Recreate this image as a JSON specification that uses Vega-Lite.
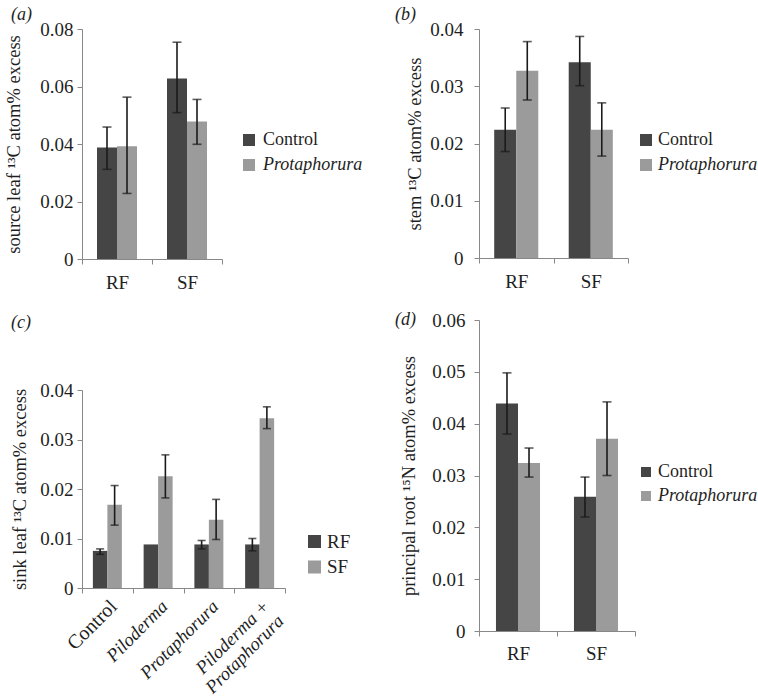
{
  "$schema": "https://vega.github.io/schema/vega-lite/v6.json",
  "background": "white",
  "padding": {"left": 4, "top": 6, "right": 0, "bottom": 0},
  "spacing": 32,
  "resolve": {"scale": {"x": "independent", "y": "independent", "xOffset": "independent", "color": "independent"}, "legend": {"color": "independent"}},
  "config": {
    "font": "Liberation Serif",
    "view": {"stroke": null},
    "axis": {
      "grid": false,
      "domainColor": "#888888",
      "tickColor": "#888888",
      "tickSize": 5,
      "labelColor": "#1f1f1f",
      "titleColor": "#1f1f1f",
      "labelFont": "Liberation Serif",
      "titleFont": "Liberation Serif",
      "labelFontSize": 19,
      "titleFontSize": 18.5,
      "titleFontWeight": "normal",
      "labelOverlap": false,
      "labelFlush": false
    },
    "axisY": {"labelPadding": 4},
    "axisX": {"labelPadding": 9},
    "legend": {
      "labelFont": "Liberation Serif",
      "labelColor": "#1f1f1f",
      "labelFontSize": 18,
      "labelLimit": 200,
      "symbolType": "square",
      "symbolStrokeWidth": 0,
      "padding": 0
    },
    "title": {
      "font": "Liberation Serif",
      "fontSize": 18,
      "fontStyle": "italic",
      "fontWeight": "normal",
      "color": "#1f1f1f",
      "anchor": "start",
      "frame": "group"
    }
  },
  "hconcat": [
    {
      "spacing": 22,
      "resolve": {"scale": {"x": "independent", "y": "independent", "xOffset": "independent", "color": "independent"}, "legend": {"color": "independent"}},
      "vconcat": [
        {
          "title": {"text": "(a)", "dx": -71, "offset": -4},
          "width": 140,
          "height": 230,
          "data": {"values": [
            {"site": "RF", "trt": "Control", "mean": 0.0388, "lo": 0.0312, "hi": 0.0459},
            {"site": "RF", "trt": "Protaphorura", "mean": 0.0392, "lo": 0.0228, "hi": 0.0563},
            {"site": "SF", "trt": "Control", "mean": 0.0628, "lo": 0.0509, "hi": 0.0754},
            {"site": "SF", "trt": "Protaphorura", "mean": 0.0478, "lo": 0.0399, "hi": 0.0555}
          ]},
          "encoding": {
            "x": {"field": "site", "type": "nominal", "sort": ["RF", "SF"], "scale": {"paddingInner": 0, "paddingOuter": 0},
                  "axis": {"title": null, "labelAngle": 0, "tickBand": "extent"}},
            "xOffset": {"field": "trt", "type": "nominal", "sort": ["Control", "Protaphorura"], "scale": {"paddingInner": 0, "paddingOuter": 0.75}}
          },
          "layer": [
            {"mark": {"type": "bar"},
             "encoding": {
               "y": {"field": "mean", "type": "quantitative", "scale": {"domain": [0, 0.08]},
                     "axis": {"title": "source leaf ¹³C atom% excess", "values": [0, 0.02, 0.04, 0.06, 0.08], "format": ".2~f", "titlePadding": 16}},
               "color": {"field": "trt", "type": "nominal", "scale": {"domain": ["Control", "Protaphorura"], "range": ["#454545", "#9b9b9b"]},
                         "legend": {"title": null, "orient": "none", "legendX": 158, "legendY": 102, "symbolSize": 144, "labelOffset": 5, "rowPadding": 7,
                                    "encode": {"labels": {"update": {"fontStyle": {"signal": "datum.value == 'Protaphorura' ? 'italic' : 'normal'"}}}}}}
             }},
            {"mark": {"type": "rule", "color": "#1a1a1a", "strokeWidth": 1.6},
             "encoding": {"y": {"field": "lo", "type": "quantitative"}, "y2": {"field": "hi"}}},
            {"mark": {"type": "tick", "color": "#1a1a1a", "thickness": 1.6, "size": 9},
             "encoding": {"y": {"field": "lo", "type": "quantitative"}}},
            {"mark": {"type": "tick", "color": "#1a1a1a", "thickness": 1.6, "size": 9},
             "encoding": {"y": {"field": "hi", "type": "quantitative"}}}
          ]
        },
        {
          "title": {"text": "(c)", "dx": -71, "offset": 49},
          "width": 203,
          "height": 198,
          "data": {"values": [
            {"trt": "Control", "site": "RF", "mean": 0.0075, "lo": 0.0068, "hi": 0.0079},
            {"trt": "Control", "site": "SF", "mean": 0.0168, "lo": 0.0127, "hi": 0.0207},
            {"trt": "Piloderma", "site": "RF", "mean": 0.0088, "lo": null, "hi": null},
            {"trt": "Piloderma", "site": "SF", "mean": 0.0226, "lo": 0.0182, "hi": 0.0269},
            {"trt": "Protaphorura", "site": "RF", "mean": 0.0088, "lo": 0.0079, "hi": 0.0096},
            {"trt": "Protaphorura", "site": "SF", "mean": 0.0138, "lo": 0.0098, "hi": 0.0179},
            {"trt": "Piloderma + Protaphorura", "site": "RF", "mean": 0.0088, "lo": 0.0075, "hi": 0.0100},
            {"trt": "Piloderma + Protaphorura", "site": "SF", "mean": 0.0343, "lo": 0.0322, "hi": 0.0366}
          ]},
          "encoding": {
            "x": {"field": "trt", "type": "nominal", "sort": ["Control", "Piloderma", "Protaphorura", "Piloderma + Protaphorura"],
                  "scale": {"paddingInner": 0, "paddingOuter": 0},
                  "axis": {"title": null, "labelAngle": -45, "labelAlign": "right", "labelBaseline": "middle", "labelPadding": 10, "labelOffset": 6, "tickBand": "extent",
                           "labelFontSize": {"condition": {"test": "datum.value == 'Control'", "value": 20}, "value": 18.5},
                           "labelFontStyle": {"condition": {"test": "datum.value != 'Control'", "value": "italic"}, "value": "normal"},
                           "labelExpr": "datum.value == 'Piloderma + Protaphorura' ? ['Piloderma +', 'Protaphorura'] : datum.value"}},
            "xOffset": {"field": "site", "type": "nominal", "sort": ["RF", "SF"], "scale": {"paddingInner": 0, "paddingOuter": 0.75}}
          },
          "layer": [
            {"mark": {"type": "bar"},
             "encoding": {
               "y": {"field": "mean", "type": "quantitative", "scale": {"domain": [0, 0.04]},
                     "axis": {"title": "sink leaf ¹³C atom% excess", "values": [0, 0.01, 0.02, 0.03, 0.04], "format": ".2~f", "titlePadding": 10}},
               "color": {"field": "site", "type": "nominal", "scale": {"domain": ["RF", "SF"], "range": ["#454545", "#9b9b9b"]},
                         "legend": {"title": null, "orient": "none", "legendX": 223, "legendY": 142, "symbolSize": 169, "labelOffset": 3, "rowPadding": 5.5, "labelFontSize": 19}}
             }},
            {"mark": {"type": "rule", "color": "#1a1a1a", "strokeWidth": 1.6},
             "encoding": {"y": {"field": "lo", "type": "quantitative"}, "y2": {"field": "hi"}}},
            {"mark": {"type": "tick", "color": "#1a1a1a", "thickness": 1.6, "size": 8},
             "encoding": {"y": {"field": "lo", "type": "quantitative"}}},
            {"mark": {"type": "tick", "color": "#1a1a1a", "thickness": 1.6, "size": 8},
             "encoding": {"y": {"field": "hi", "type": "quantitative"}}}
          ]
        }
      ]
    },
    {
      "spacing": 20,
      "resolve": {"scale": {"x": "independent", "y": "independent", "xOffset": "independent", "color": "independent"}, "legend": {"color": "independent"}},
      "vconcat": [
        {
          "title": {"text": "(b)", "dx": -84, "offset": -4},
          "width": 149,
          "height": 229,
          "data": {"values": [
            {"site": "RF", "trt": "Control", "mean": 0.0224, "lo": 0.0186, "hi": 0.0262},
            {"site": "RF", "trt": "Protaphorura", "mean": 0.0327, "lo": 0.0276, "hi": 0.0378},
            {"site": "SF", "trt": "Control", "mean": 0.0342, "lo": 0.0301, "hi": 0.0387},
            {"site": "SF", "trt": "Protaphorura", "mean": 0.0224, "lo": 0.0178, "hi": 0.0271}
          ]},
          "encoding": {
            "x": {"field": "site", "type": "nominal", "sort": ["RF", "SF"], "scale": {"paddingInner": 0, "paddingOuter": 0},
                  "axis": {"title": null, "labelAngle": 0, "tickBand": "extent"}},
            "xOffset": {"field": "trt", "type": "nominal", "sort": ["Control", "Protaphorura"], "scale": {"paddingInner": 0, "paddingOuter": 0.69}}
          },
          "layer": [
            {"mark": {"type": "bar"},
             "encoding": {
               "y": {"field": "mean", "type": "quantitative", "scale": {"domain": [0, 0.04]},
                     "axis": {"title": "stem ¹³C atom% excess", "values": [0, 0.01, 0.02, 0.03, 0.04], "format": ".2~f", "labelPadding": 11, "titlePadding": 5}},
               "color": {"field": "trt", "type": "nominal", "scale": {"domain": ["Control", "Protaphorura"], "range": ["#454545", "#9b9b9b"]},
                         "legend": {"title": null, "orient": "none", "legendX": 158, "legendY": 102, "symbolSize": 144, "labelOffset": 3, "rowPadding": 7,
                                    "encode": {"labels": {"update": {"fontStyle": {"signal": "datum.value == 'Protaphorura' ? 'italic' : 'normal'"}}}}}}
             }},
            {"mark": {"type": "rule", "color": "#1a1a1a", "strokeWidth": 1.6},
             "encoding": {"y": {"field": "lo", "type": "quantitative"}, "y2": {"field": "hi"}}},
            {"mark": {"type": "tick", "color": "#1a1a1a", "thickness": 1.6, "size": 9},
             "encoding": {"y": {"field": "lo", "type": "quantitative"}}},
            {"mark": {"type": "tick", "color": "#1a1a1a", "thickness": 1.6, "size": 9},
             "encoding": {"y": {"field": "hi", "type": "quantitative"}}}
          ]
        },
        {
          "title": {"text": "(d)", "dx": -84, "offset": -18},
          "width": 156,
          "height": 311,
          "data": {"values": [
            {"site": "RF", "trt": "Control", "mean": 0.0439, "lo": 0.0380, "hi": 0.0498},
            {"site": "RF", "trt": "Protaphorura", "mean": 0.0324, "lo": 0.0297, "hi": 0.0353},
            {"site": "SF", "trt": "Control", "mean": 0.0259, "lo": 0.0220, "hi": 0.0297},
            {"site": "SF", "trt": "Protaphorura", "mean": 0.0371, "lo": 0.0300, "hi": 0.0442}
          ]},
          "encoding": {
            "x": {"field": "site", "type": "nominal", "sort": ["RF", "SF"], "scale": {"paddingInner": 0, "paddingOuter": 0},
                  "axis": {"title": null, "labelAngle": 0, "tickBand": "extent", "labelPadding": 8}},
            "xOffset": {"field": "trt", "type": "nominal", "sort": ["Control", "Protaphorura"], "scale": {"paddingInner": 0, "paddingOuter": 0.77}}
          },
          "layer": [
            {"mark": {"type": "bar"},
             "encoding": {
               "y": {"field": "mean", "type": "quantitative", "scale": {"domain": [0, 0.06]},
                     "axis": {"title": "principal root ¹⁵N atom% excess", "values": [0, 0.01, 0.02, 0.03, 0.04, 0.05, 0.06], "format": ".2~f", "labelPadding": 9, "titlePadding": 13}},
               "color": {"field": "trt", "type": "nominal", "scale": {"domain": ["Control", "Protaphorura"], "range": ["#454545", "#9b9b9b"]},
                         "legend": {"title": null, "orient": "none", "legendX": 158, "legendY": 143, "symbolSize": 100, "labelOffset": 3, "rowPadding": 6, "labelFontSize": 18,
                                    "encode": {"labels": {"update": {"fontStyle": {"signal": "datum.value == 'Protaphorura' ? 'italic' : 'normal'"}}}}}}
             }},
            {"mark": {"type": "rule", "color": "#1a1a1a", "strokeWidth": 1.6},
             "encoding": {"y": {"field": "lo", "type": "quantitative"}, "y2": {"field": "hi"}}},
            {"mark": {"type": "tick", "color": "#1a1a1a", "thickness": 1.6, "size": 9},
             "encoding": {"y": {"field": "lo", "type": "quantitative"}}},
            {"mark": {"type": "tick", "color": "#1a1a1a", "thickness": 1.6, "size": 9},
             "encoding": {"y": {"field": "hi", "type": "quantitative"}}}
          ]
        }
      ]
    }
  ]
}
